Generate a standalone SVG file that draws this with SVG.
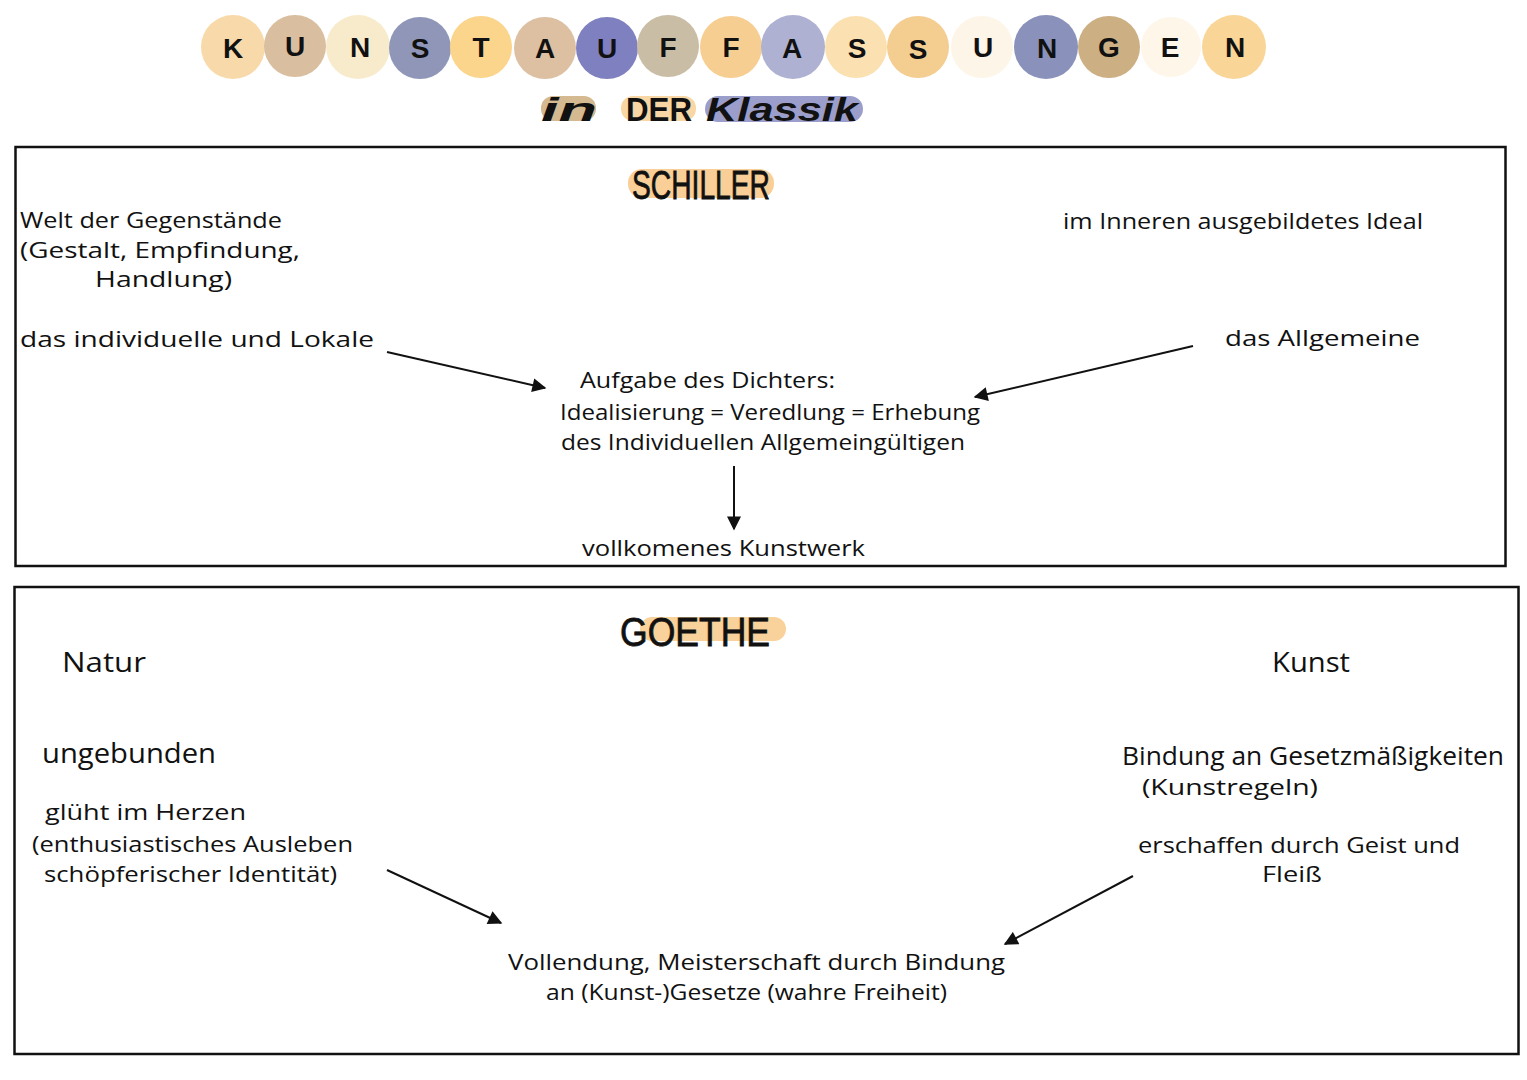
<svg xmlns="http://www.w3.org/2000/svg" width="1527" height="1080" viewBox="0 0 1527 1080">
<defs>
<marker id="ahb" viewBox="0 0 10 10" refX="9" refY="5" markerWidth="16" markerHeight="14" orient="auto" markerUnits="userSpaceOnUse">
<path d="M0,0 L10,5 L0,10 z" fill="#111"/>
</marker>
</defs>
<style>
.t{font-family:"Open Sans","Liberation Sans",sans-serif;font-size:22px;fill:#111;}
.big{font-size:27px;}
.mid{font-size:25px;}
.ltr{font-family:"Liberation Sans",sans-serif;font-weight:bold;font-size:28px;fill:#111;text-anchor:middle;}
.sub{font-family:"Liberation Sans",sans-serif;font-weight:bold;font-size:34px;fill:#111;}
.head{font-family:"Liberation Sans",sans-serif;font-size:40px;fill:#111;stroke:#111;stroke-width:0.8;}
.box{fill:none;stroke:#111;stroke-width:2.5;}
.con{fill:none;stroke:#111;stroke-width:2;marker-end:url(#ahb);}
</style>
<rect width="1527" height="1080" fill="#fff"/>

<g id="title">
<circle cx="233" cy="47" r="32" fill="#f8d9aa"/>
<circle cx="295" cy="46" r="31" fill="#d9bea0"/>
<circle cx="358" cy="47" r="32" fill="#f8ebcc"/>
<circle cx="420" cy="48" r="31" fill="#8f96b8"/>
<circle cx="481" cy="47" r="31" fill="#fbd58c"/>
<circle cx="545" cy="48" r="31" fill="#dcc0a1"/>
<circle cx="607" cy="48" r="31" fill="#7f80bf"/>
<circle cx="668" cy="46" r="31" fill="#cabda6"/>
<circle cx="731" cy="47" r="31" fill="#f7ce91"/>
<circle cx="793" cy="47" r="32" fill="#aeb1d1"/>
<circle cx="856" cy="47" r="31" fill="#fbe1b1"/>
<circle cx="918" cy="47" r="31" fill="#f4cd90"/>
<circle cx="982" cy="47" r="31" fill="#fdf5e7"/>
<circle cx="1046" cy="47" r="32" fill="#8a91ba"/>
<circle cx="1109" cy="47" r="31" fill="#cdaf84"/>
<circle cx="1171" cy="47" r="30" fill="#fdf6e9"/>
<circle cx="1234" cy="47" r="32" fill="#f9d597"/>
<text class="ltr" x="233" y="58">K</text>
<text class="ltr" x="295" y="56">U</text>
<text class="ltr" x="360" y="57">N</text>
<text class="ltr" x="420" y="58">S</text>
<text class="ltr" x="481" y="57">T</text>
<text class="ltr" x="545" y="58">A</text>
<text class="ltr" x="607" y="58">U</text>
<text class="ltr" x="668" y="57">F</text>
<text class="ltr" x="731" y="57">F</text>
<text class="ltr" x="792" y="58">A</text>
<text class="ltr" x="857" y="58">S</text>
<text class="ltr" x="918" y="59">S</text>
<text class="ltr" x="983" y="57">U</text>
<text class="ltr" x="1047" y="58">N</text>
<text class="ltr" x="1109" y="57">G</text>
<text class="ltr" x="1170" y="57">E</text>
<text class="ltr" x="1235" y="57">N</text>
</g>

<g id="subtitle">
<rect x="541" y="96" width="55" height="25" rx="12" fill="#d4b991"/>
<rect x="621" y="96" width="75" height="25" rx="12" fill="#f8d7a4"/>
<rect x="705" y="96" width="158" height="26" rx="13" fill="#9b9ecb"/>
<text class="sub" x="541" y="121" textLength="56" lengthAdjust="spacingAndGlyphs" font-style="italic">in</text>
<text class="sub" x="626" y="121" textLength="66" lengthAdjust="spacingAndGlyphs">DER</text>
<text class="sub" x="706" y="121" textLength="152" lengthAdjust="spacingAndGlyphs" font-style="italic">Klassik</text>
</g>

<g id="schiller-box">
<rect class="box" x="15.5" y="147" width="1490" height="419"/>
<rect x="628" y="169" width="146" height="29" rx="14" fill="#f9cf97"/>
<text class="head" x="632" y="199" textLength="138" lengthAdjust="spacingAndGlyphs">SCHILLER</text>
</g>

<g id="welt">
<text class="t" x="20" y="228" textLength="262" lengthAdjust="spacingAndGlyphs">Welt der Gegenstände</text>
<text class="t" x="20" y="258" textLength="280" lengthAdjust="spacingAndGlyphs">(Gestalt, Empfindung,</text>
<text class="t" x="95" y="287" textLength="137" lengthAdjust="spacingAndGlyphs">Handlung)</text>
</g>
<g id="individuelle">
<text class="t" x="20" y="347" textLength="354" lengthAdjust="spacingAndGlyphs">das individuelle und Lokale</text>
</g>
<g id="ideal">
<text class="t" x="1063" y="229" textLength="360" lengthAdjust="spacingAndGlyphs">im Inneren ausgebildetes Ideal</text>
</g>
<g id="allgemeine">
<text class="t" x="1225" y="346" textLength="195" lengthAdjust="spacingAndGlyphs">das Allgemeine</text>
</g>
<g id="aufgabe">
<text class="t" x="580" y="388" textLength="255" lengthAdjust="spacingAndGlyphs">Aufgabe des Dichters:</text>
<text class="t" x="560" y="420" textLength="420" lengthAdjust="spacingAndGlyphs">Idealisierung = Veredlung = Erhebung</text>
<text class="t" x="561" y="450" textLength="404" lengthAdjust="spacingAndGlyphs">des Individuellen Allgemeingültigen</text>
</g>
<g id="kunstwerk">
<text class="t" x="582" y="556" textLength="283" lengthAdjust="spacingAndGlyphs">vollkomenes Kunstwerk</text>
</g>

<g id="goethe-box">
<rect class="box" x="14.5" y="587" width="1504" height="467"/>
<rect x="640" y="617" width="146" height="24" rx="12" fill="#f9d19a"/>
<text class="head" x="620" y="646" textLength="150" lengthAdjust="spacingAndGlyphs">GOETHE</text>
</g>

<g id="natur">
<text class="t big" x="62" y="672" textLength="84" lengthAdjust="spacingAndGlyphs">Natur</text>
</g>
<g id="kunst">
<text class="t big" x="1272" y="672" textLength="78" lengthAdjust="spacingAndGlyphs">Kunst</text>
</g>
<g id="ungebunden">
<text class="t big" x="42" y="763" textLength="174" lengthAdjust="spacingAndGlyphs">ungebunden</text>
<text class="t" x="45" y="820" textLength="201" lengthAdjust="spacingAndGlyphs">glüht im Herzen</text>
<text class="t" x="32" y="852" textLength="321" lengthAdjust="spacingAndGlyphs">(enthusiastisches Ausleben</text>
<text class="t" x="44" y="882" textLength="293" lengthAdjust="spacingAndGlyphs">schöpferischer Identität)</text>
</g>
<g id="bindung">
<text class="t mid" x="1122" y="765" textLength="382" lengthAdjust="spacingAndGlyphs">Bindung an Gesetzmäßigkeiten</text>
<text class="t" x="1142" y="795" textLength="176" lengthAdjust="spacingAndGlyphs">(Kunstregeln)</text>
<text class="t" x="1138" y="853" textLength="322" lengthAdjust="spacingAndGlyphs">erschaffen durch Geist und</text>
<text class="t" x="1262" y="882" textLength="60" lengthAdjust="spacingAndGlyphs">Fleiß</text>
</g>
<g id="vollendung">
<text class="t" x="508" y="970" textLength="497" lengthAdjust="spacingAndGlyphs">Vollendung, Meisterschaft durch Bindung</text>
<text class="t" x="546" y="1000" textLength="401" lengthAdjust="spacingAndGlyphs">an (Kunst-)Gesetze (wahre Freiheit)</text>
</g>

<g id="connectors">
<line class="con" x1="387" y1="352" x2="545" y2="388"/>
<line class="con" x1="1193" y1="346" x2="975" y2="397"/>
<line class="con" x1="734" y1="466" x2="734" y2="529"/>
<line class="con" x1="387" y1="870" x2="501" y2="923"/>
<line class="con" x1="1133" y1="876" x2="1005" y2="944"/>
</g>
</svg>
